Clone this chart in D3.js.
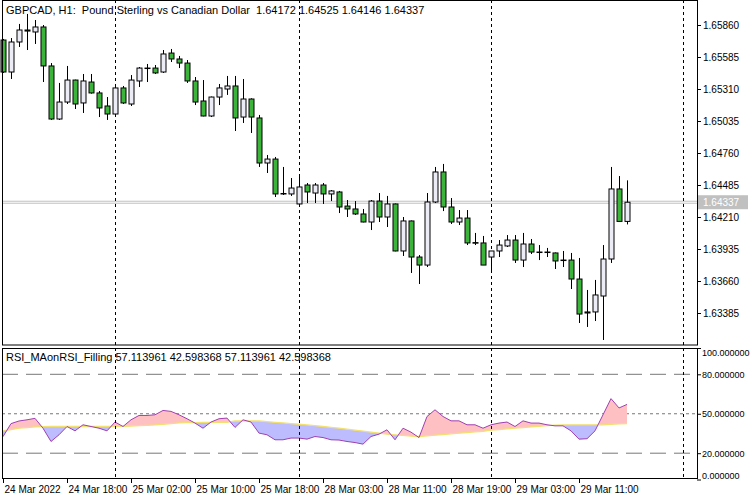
<!DOCTYPE html>
<html><head><meta charset="utf-8">
<script src="https://cdn.jsdelivr.net/npm/d3@7"></script>
<style>body{margin:0;background:#fff}svg{display:block}text{font-family:"Liberation Sans",Arial,sans-serif;font-size:11px;white-space:pre}</style>
</head><body><svg id="c" width="750" height="500"></svg>
<script>
const opens=[1.65731,1.65456,1.65714,1.65817,1.65800,1.65843,1.65508,1.65052,1.65198,1.65387,1.65190,1.65370,1.65276,1.65164,1.65095,1.65319,1.65181,1.65379,1.65490,1.65490,1.65456,1.65619,1.65568,1.65533,1.65379,1.65207,1.65078,1.65241,1.65310,1.65336,1.65069,1.65224,1.65061,1.64674,1.64708,1.64412,1.64408,1.64322,1.64485,1.64416,1.64485,1.64408,1.64425,1.64304,1.64279,1.64236,1.64167,1.64347,1.64210,1.64322,1.63918,1.64176,1.63866,1.63797,1.64339,1.64597,1.64296,1.64167,1.64201,1.63990,1.63987,1.63866,1.63918,1.63961,1.64012,1.63840,1.63978,1.63909,1.63909,1.63901,1.63840,1.63840,1.63677,1.63385,1.63394,1.63531,1.63849,1.64451,1.64172];
const highs=[1.65740,1.65748,1.65869,1.65955,1.65903,1.65860,1.65533,1.65362,1.65508,1.65390,1.65439,1.65439,1.65293,1.65241,1.65327,1.65336,1.65430,1.65499,1.65525,1.65516,1.65645,1.65654,1.65594,1.65559,1.65413,1.65387,1.65245,1.65353,1.65422,1.65422,1.65396,1.65230,1.65087,1.64743,1.64726,1.64640,1.64545,1.64554,1.64502,1.64502,1.64502,1.64442,1.64434,1.64356,1.64347,1.64279,1.64356,1.64416,1.64391,1.64326,1.64210,1.64180,1.63883,1.64416,1.64640,1.64666,1.64373,1.64270,1.64270,1.64073,1.64047,1.63918,1.64012,1.64055,1.64055,1.64073,1.64021,1.63969,1.63944,1.63905,1.63918,1.63901,1.63858,1.63583,1.63669,1.63969,1.64640,1.64562,1.64525];
const lows=[1.65448,1.65396,1.65671,1.65645,1.65697,1.65370,1.65044,1.65044,1.65181,1.65138,1.65104,1.65270,1.65069,1.65044,1.65087,1.65181,1.65164,1.65327,1.65370,1.65439,1.65448,1.65542,1.65490,1.65362,1.65172,1.65075,1.65069,1.65172,1.65259,1.64949,1.65018,1.64932,1.64640,1.64588,1.64382,1.64399,1.64391,1.64318,1.64330,1.64330,1.64322,1.64347,1.64244,1.64210,1.64227,1.64164,1.64098,1.64167,1.64124,1.63915,1.63875,1.63729,1.63634,1.63780,1.64330,1.64261,1.64150,1.64141,1.63969,1.63969,1.63797,1.63729,1.63866,1.63952,1.63815,1.63780,1.63892,1.63840,1.63866,1.63763,1.63780,1.63591,1.63299,1.63265,1.63316,1.63153,1.63815,1.64167,1.64146];
const closes=[1.65456,1.65714,1.65817,1.65808,1.65843,1.65508,1.65052,1.65198,1.65387,1.65181,1.65379,1.65276,1.65147,1.65095,1.65319,1.65190,1.65387,1.65490,1.65486,1.65448,1.65611,1.65568,1.65533,1.65379,1.65198,1.65078,1.65241,1.65319,1.65336,1.65061,1.65224,1.65069,1.64674,1.64708,1.64408,1.64408,1.64459,1.64468,1.64425,1.64485,1.64408,1.64434,1.64296,1.64279,1.64236,1.64167,1.64347,1.64210,1.64322,1.63918,1.64176,1.63866,1.63797,1.64339,1.64597,1.64296,1.64167,1.64201,1.63987,1.63985,1.63797,1.63918,1.63969,1.64012,1.63840,1.63978,1.63909,1.63906,1.63906,1.63832,1.63837,1.63677,1.63376,1.63394,1.63540,1.63849,1.64451,1.64172,1.64337];
const rsi=[32.6,42.5,44.5,45.4,46.5,39,28.9,34,40.3,37,41.6,40.3,39,37,43.7,40.3,45.4,48.7,48.7,49.2,52.5,51.8,49.2,46.2,42.9,39,43.7,46.2,46.7,39.6,45.4,43.7,35.3,34,30.2,30.2,31.5,31.5,30.7,32.7,31.9,30.2,30,28.9,28.1,26.9,32.7,34.5,37.8,30.2,39,36,31.9,47.9,53,47.9,44.6,44.6,41.6,41.6,39,41.6,42.9,43.7,40.3,44.6,42.9,42.9,41.6,40.8,40.8,37,30.7,31,37,49.2,61.5,54.4,57.114];
const ma=[37,38,39,39.5,40,40.2,40.3,40.3,40.3,40.3,40.3,40.3,40.3,40.3,40.3,40.5,40.7,41,41.2,41.5,42,42.5,43,43.2,43.3,43.4,43.5,43.5,43.5,44.5,44.5,44.5,44.5,44,43.5,43,42.5,42,41.5,41,40.3,39.7,39,38.3,37.5,36.8,36,35.3,34.5,34,33.5,33,32.7,33.2,33.7,34.2,34.7,35.2,35.7,36.2,36.7,37.5,38,38.5,39,39.5,40,40.5,41,41.3,41.5,41.6,41.6,41.6,41.6,41.6,42,42.3,42.598];
const priceTicks=[1.65860,1.65585,1.65310,1.65035,1.64760,1.64485,1.64210,1.63935,1.63660,1.63385];
const rsiTicks=[100,80,50,20,0];
const timeLabels=["24 Mar 2022","24 Mar 18:00","25 Mar 02:00","25 Mar 10:00","25 Mar 18:00","28 Mar 03:00","28 Mar 11:00","28 Mar 19:00","29 Mar 03:00","29 Mar 11:00"];
const timeLabelIdx=[0,8,16,24,32,40,48,56,64,72];
const separatorIdx=[14,37,61,85];
const lastPrice=1.64337;
const title="GBPCAD, H1:  Pound Sterling vs Canadian Dollar  1.64172 1.64525 1.64146 1.64337";
const indTitle="RSI_MAonRSI_Filling 57.113961 42.598368 57.113961 42.598368";

const svg=d3.select("#c");
const L=2,R=697,mainTop=0,mainBot=345,rTop=348,rBot=478;
const x=d3.scaleLinear().domain([0,85]).range([3,683]);
const y=d3.scaleLinear().domain([1.63385,1.65860]).range([313,25]);
const yr=d3.scaleLinear().domain([0,100]).range([479.5,348]);
const idx=d3.range(opens.length);
const FS="10px";

const ga=svg.append("g").attr("transform",`translate(${R},0)`);
ga.call(d3.axisRight(y).tickValues(priceTicks).tickFormat(d3.format(".5f")).tickSize(4).tickPadding(2));
const gr=svg.append("g").attr("transform",`translate(${R},0)`);
gr.call(d3.axisRight(yr).tickValues(rsiTicks).tickFormat(d3.format(".6f")).tickSize(4).tickPadding(1));
[ga,gr].forEach(g=>{g.select(".domain").remove();g.selectAll("line").attr("stroke","#000");g.selectAll("text").attr("fill","#000").style("font-size",FS);});
gr.selectAll("text").style("font-size","9px");
gr.selectAll(".tick").filter(d=>d===100).select("text").attr("dy","0.85em");
gr.selectAll(".tick").filter(d=>d===0).select("text").attr("dy","-0.15em");
const gt=svg.append("g").attr("transform",`translate(0,${rBot})`);
gt.call(d3.axisBottom(x).tickValues(timeLabelIdx).tickFormat((d,i)=>timeLabels[i]).tickSize(5).tickPadding(3));
gt.select(".domain").remove();
gt.selectAll("line").attr("stroke","#000");
gt.selectAll("text").attr("fill","#000").attr("text-anchor","start").attr("x",1).style("font-size",FS);

[80,20].forEach(v=>svg.append("line").attr("x1",L).attr("x2",R).attr("y1",yr(v)).attr("y2",yr(v)).attr("stroke","#777").attr("stroke-dasharray","16,8"));
svg.append("line").attr("x1",L).attr("x2",R).attr("y1",yr(50)).attr("y2",yr(50)).attr("stroke","#777").attr("stroke-dasharray","3,3");

const defs=svg.append("defs");
defs.append("clipPath").attr("id","above").append("path").attr("d",d3.area().x(i=>x(i)).y0(rTop).y1(i=>yr(ma[i]))(idx));
defs.append("clipPath").attr("id","below").append("path").attr("d",d3.area().x(i=>x(i)).y0(rBot).y1(i=>yr(ma[i]))(idx));
const band=d3.area().x(i=>x(i)).y0(i=>yr(ma[i])).y1(i=>yr(rsi[i]));
svg.append("path").attr("d",band(idx)).attr("fill","#ffc0c4").attr("clip-path","url(#above)");
svg.append("path").attr("d",band(idx)).attr("fill","#bcbcff").attr("clip-path","url(#below)");
svg.append("path").attr("d",d3.line().x(i=>x(i)).y(i=>yr(ma[i]))(idx)).attr("fill","none").attr("stroke","#f2e070").attr("stroke-width",1.3);
svg.append("path").attr("d",d3.line().x(i=>x(i)).y(i=>yr(rsi[i]))(idx)).attr("fill","none").attr("stroke","#a040b0").attr("stroke-width",1);

[-1,1].forEach(o=>svg.append("line").attr("x1",L).attr("x2",R).attr("y1",y(lastPrice)+o).attr("y2",y(lastPrice)+o).attr("stroke","#c0c0c0"));

separatorIdx.forEach(s=>svg.append("line").attr("x1",x(s)+0.5).attr("x2",x(s)+0.5).attr("y1",mainTop).attr("y2",rBot).attr("stroke","#000").attr("stroke-dasharray","3,3"));

const cg=svg.append("g");
idx.forEach(i=>{
  const cx=Math.round(x(i))+0.5, up=closes[i]>=opens[i];
  cg.append("line").attr("x1",cx).attr("x2",cx).attr("y1",y(highs[i])).attr("y2",y(lows[i])).attr("stroke","#000");
  const t=y(Math.max(opens[i],closes[i])), b=y(Math.min(opens[i],closes[i]));
  cg.append("rect").attr("x",cx-2.5).attr("width",5).attr("y",t).attr("height",Math.max(b-t,0.5))
    .attr("fill",up?"#ececf6":"#3cb43c").attr("stroke","#000").attr("stroke-width",1);
});

svg.append("rect").attr("x",R+1).attr("y",y(lastPrice)-7).attr("width",50).attr("height",14).attr("fill","#c0c0c0");
svg.append("text").attr("x",R+6).attr("y",y(lastPrice)+4).attr("fill","#fff").style("font-size",FS).text(d3.format(".5f")(lastPrice));

svg.append("rect").attr("x",L+0.5).attr("y",0.5).attr("width",R-L).attr("height",mainBot-0.5).attr("fill","none").attr("stroke","#000");
svg.append("rect").attr("x",L+0.5).attr("y",rTop+0.5).attr("width",R-L).attr("height",rBot-rTop).attr("fill","none").attr("stroke","#000");
svg.append("text").attr("x",6).attr("y",14).text(title);
svg.append("text").attr("x",6).attr("y",361).text(indTitle);
</script></body></html>
